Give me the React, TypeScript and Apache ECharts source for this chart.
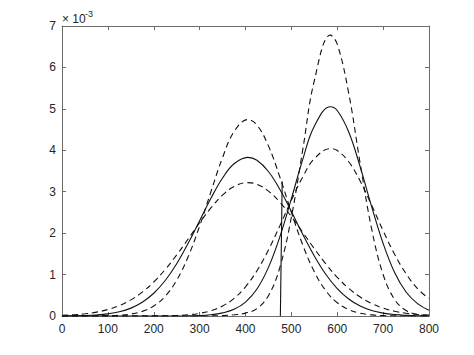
import React, { useEffect, useRef } from "react";
import * as echarts from "echarts";

// x positions of the sampled points (left group peaks near 405, right group near 585)
const leftXs = [0, 25, 50, 75, 100, 125, 150, 175, 200, 225, 250, 275, 300, 325, 350, 375, 405, 425, 450, 475, 500, 525, 550, 575, 600, 625, 650, 675, 700, 725, 750, 775, 800];
const rightXs = [0, 25, 50, 75, 100, 125, 150, 175, 200, 225, 250, 275, 300, 325, 350, 375, 400, 425, 450, 475, 500, 525, 550, 585, 600, 625, 650, 675, 700, 725, 750, 775, 800];

// values in units of 1e-3
const leftSolid = [0.002, 0.005, 0.011, 0.025, 0.052, 0.102, 0.19, 0.332, 0.549, 0.856, 1.261, 1.754, 2.301, 2.849, 3.33, 3.674, 3.83, 3.76, 3.488, 3.054, 2.524, 1.968, 1.449, 1.007, 0.66, 0.409, 0.239, 0.132, 0.069, 0.034, 0.016, 0.007, 0.003];
const leftDashHigh = [0, 0, 0.001, 0.002, 0.006, 0.018, 0.047, 0.112, 0.241, 0.477, 0.864, 1.431, 2.17, 3.012, 3.825, 4.447, 4.74, 4.608, 4.106, 3.35, 2.501, 1.708, 1.068, 0.611, 0.32, 0.153, 0.067, 0.027, 0.01, 0.003, 0.001, 0, 0];
const leftDashLow = [0.016, 0.029, 0.053, 0.093, 0.156, 0.252, 0.389, 0.577, 0.821, 1.123, 1.474, 1.859, 2.25, 2.615, 2.918, 3.127, 3.22, 3.178, 3.015, 2.746, 2.401, 2.016, 1.625, 1.258, 0.935, 0.667, 0.457, 0.301, 0.19, 0.115, 0.067, 0.038, 0.02];
const rightSolid = [0, 0, 0, 0, 0, 0, 0, 0, 0, 0, 0.001, 0.002, 0.008, 0.03, 0.075, 0.16, 0.335, 0.65, 1.173, 1.916, 2.831, 3.785, 4.578, 5.05, 4.96, 4.443, 3.6, 2.639, 1.751, 1.05, 0.58, 0.3, 0.14];
const rightDashHigh = [0, 0, 0, 0, 0, 0, 0, 0, 0, 0, 0, 0, 0, 0.003, 0.01, 0.03, 0.07, 0.18, 0.49, 1.178, 2.385, 4.029, 5.68, 6.78, 6.563, 5.379, 3.68, 2.101, 1.001, 0.399, 0.132, 0.037, 0.008];
const rightDashLow = [0, 0, 0, 0, 0, 0, 0, 0.001, 0.002, 0.005, 0.013, 0.03, 0.064, 0.128, 0.242, 0.426, 0.705, 1.094, 1.594, 2.179, 2.794, 3.362, 3.795, 4.04, 3.994, 3.723, 3.257, 2.672, 2.058, 1.49, 1.02, 0.66, 0.42];

// threshold line
const thresholdX = [476, 480];
const thresholdY = [0, 3.25];

const xTicks = { min: 0, max: 800, interval: 100 };
const yTicks = { min: 0, max: 7, interval: 1 };

export default function App() {
  const ref = useRef<HTMLDivElement>(null);
  useEffect(() => {
    if (!ref.current) return;
    const chart = echarts.init(ref.current, null, { renderer: "svg" });
    const pairs = (xv: number[], ys: number[]) => xv.map((x, i) => [x, ys[i]]);
    const axisLine = { show: true, onZero: false, lineStyle: { color: "#6b6b6b", width: 1 } };
    const tick = { show: true, inside: true, length: 4, lineStyle: { color: "#6b6b6b", width: 1 } };
    const font = "Liberation Sans, Arial, sans-serif";
    const label = { color: "#262626", fontSize: 12, fontFamily: font };
    const curveColor = "#111111";
    const mk = (name: string, xv: number[], ys: number[], dashed: boolean) => ({
      name,
      type: "line",
      data: pairs(xv, ys),
      smooth: 0.4,
      showSymbol: false,
      symbol: "none",
      silent: true,
      lineStyle: { color: curveColor, width: 1.1, type: dashed ? [6, 4] : "solid" },
    });
    chart.setOption({
      animation: false,
      backgroundColor: "#ffffff",
      grid: { left: 62, right: 45, top: 26, bottom: 39, containLabel: false },
      xAxis: [
        {
          type: "value",
          position: "bottom",
          ...xTicks,
          axisLine,
          axisTick: tick,
          splitLine: { show: false },
          axisLabel: { ...label, margin: 7 },
        },
        {
          type: "value",
          position: "top",
          ...xTicks,
          axisLine,
          axisTick: tick,
          splitLine: { show: false },
          axisLabel: { show: false },
        },
      ],
      yAxis: [
        {
          type: "value",
          position: "left",
          ...yTicks,
          axisLine,
          axisTick: tick,
          splitLine: { show: false },
          axisLabel: { ...label, margin: 6 },
        },
        {
          type: "value",
          position: "right",
          ...yTicks,
          axisLine,
          axisTick: tick,
          splitLine: { show: false },
          axisLabel: { show: false },
        },
      ],
      graphic: [
        {
          type: "text",
          left: 62,
          top: 13,
          style: { text: "× 10", fontSize: 12, fill: "#262626", fontFamily: font },
        },
        {
          type: "text",
          left: 85,
          top: 9,
          style: { text: "-3", fontSize: 9, fill: "#262626", fontFamily: font },
        },
      ],
      series: [
        mk("left solid", leftXs, leftSolid, false),
        mk("left dashed high", leftXs, leftDashHigh, true),
        mk("left dashed low", leftXs, leftDashLow, true),
        mk("right solid", rightXs, rightSolid, false),
        mk("right dashed high", rightXs, rightDashHigh, true),
        mk("right dashed low", rightXs, rightDashLow, true),
        {
          name: "threshold",
          type: "line",
          data: thresholdX.map((x, i) => [x, thresholdY[i]]),
          showSymbol: false,
          symbol: "none",
          silent: true,
          lineStyle: { color: curveColor, width: 1.1 },
        },
      ],
    });
    return () => chart.dispose();
  }, []);
  return (
    <div
      ref={ref}
      style={{ position: "absolute", left: 0, top: 0, width: 474, height: 355, background: "#fff" }}
    />
  );
}
